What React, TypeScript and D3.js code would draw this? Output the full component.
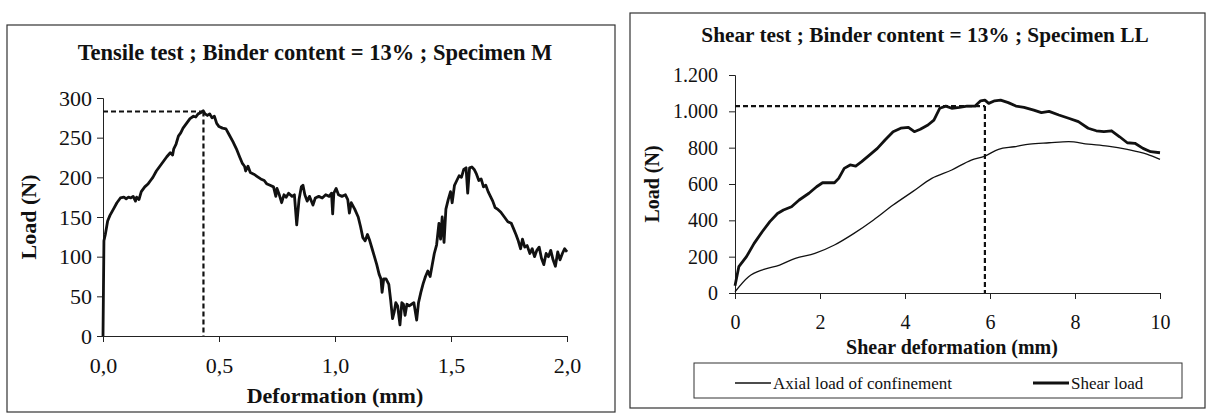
import { useEffect, useRef } from 'react';
import * as d3 from 'd3';

// Tensile test, specimen M (deformation in mm, load in N)
const tensileDeformation = [
  0.0, 0.002, 0.004, 0.01, 0.02, 0.03, 0.045, 0.06, 0.075, 0.09, 0.1, 0.11, 0.12, 0.13, 0.14, 0.145,
  0.155, 0.165, 0.18, 0.195, 0.205, 0.215, 0.23, 0.245, 0.26, 0.275, 0.29, 0.3, 0.305, 0.315, 0.325,
  0.335, 0.345, 0.36, 0.375, 0.39, 0.4, 0.41, 0.425, 0.432, 0.44, 0.45, 0.46, 0.47, 0.48, 0.49, 0.5,
  0.515, 0.53, 0.545, 0.56, 0.575, 0.59, 0.6, 0.61, 0.615, 0.625, 0.635, 0.65, 0.665, 0.68, 0.695,
  0.705, 0.72, 0.735, 0.745, 0.75, 0.76, 0.77, 0.78, 0.79, 0.8, 0.815, 0.825, 0.835, 0.845, 0.855,
  0.862, 0.87, 0.88, 0.89, 0.905, 0.915, 0.93, 0.945, 0.96, 0.975, 0.985, 0.99, 0.995, 1.005, 1.015,
  1.03, 1.045, 1.055, 1.062, 1.07, 1.085, 1.1, 1.11, 1.12, 1.13, 1.14, 1.15, 1.16, 1.17, 1.18, 1.19,
  1.198, 1.203, 1.21, 1.22, 1.232, 1.24, 1.248, 1.255, 1.262, 1.27, 1.28, 1.288, 1.295, 1.302, 1.31,
  1.32, 1.33, 1.34, 1.352, 1.36, 1.37, 1.38, 1.39, 1.4, 1.41, 1.418, 1.428, 1.438, 1.448, 1.455,
  1.462, 1.47, 1.478, 1.488, 1.498, 1.505, 1.515, 1.525, 1.535, 1.545, 1.555, 1.565, 1.572, 1.58,
  1.59, 1.6, 1.61, 1.62, 1.63, 1.64, 1.65, 1.66, 1.67, 1.68, 1.69, 1.7, 1.715, 1.73, 1.745, 1.76,
  1.77, 1.78, 1.79, 1.8, 1.808, 1.818, 1.828, 1.84, 1.85, 1.86, 1.87, 1.88, 1.89, 1.9, 1.91, 1.92,
  1.93, 1.94, 1.95, 1.96, 1.97, 1.98, 1.99, 2.0,
];
const tensileLoad = [
  0, 60, 120, 128, 145, 152, 160, 168, 174, 175, 173, 175, 174, 176, 170, 175,
  172, 182, 188, 192, 196, 200, 208, 214, 220, 226, 231, 228, 236, 242, 252,
  256, 262, 268, 274, 277, 276, 280, 282, 284, 280, 278, 280, 275, 277, 268, 264,
  262, 261, 253, 245, 236, 225, 218, 214, 208, 214, 206, 204, 201, 198, 196,
  192, 190, 188, 176, 186, 178, 168, 178, 175, 180, 176, 178, 140, 172, 188,
  190, 178, 170, 176, 165, 174, 176, 174, 178, 176, 180, 154, 180, 186, 178,
  176, 178, 172, 155, 168, 160, 150, 138, 124, 120, 128, 120, 110, 100, 90, 78,
  72, 55, 72, 72, 65, 45, 22, 30, 42, 38, 14, 42, 40, 26, 40,
  38, 40, 42, 20, 42, 55, 66, 75, 82, 75, 88, 104, 115, 142, 122,
  150, 118, 160, 172, 182, 168, 190, 196, 202, 200, 210, 212, 180, 212,
  213, 210, 204, 196, 198, 188, 190, 182, 176, 170, 162, 160, 156, 150, 144, 142,
  135, 128, 120, 110, 122, 112, 114, 104, 110, 100, 108, 112, 98, 90, 104, 100,
  108, 96, 88, 106, 96, 104, 110, 106,
];
const tensilePeak = { deformation: 0.433, load: 283 };

// Shear test, specimen LL (shear deformation in mm, load in N)
const shearDeformation = [
  0, 0.09, 0.27, 0.45, 0.64, 0.82, 1.0, 1.14, 1.33, 1.51, 1.74, 1.92, 2.06, 2.34, 2.44, 2.57, 2.71,
  2.84, 2.98, 3.17, 3.35, 3.53, 3.72, 3.9, 4.08, 4.22, 4.36, 4.54, 4.68, 4.82, 4.96, 5.1, 5.28, 5.46,
  5.65, 5.78, 5.88, 5.97, 6.11, 6.25, 6.43, 6.61, 6.8, 7.03, 7.21, 7.39, 7.62, 7.85, 8.08, 8.31, 8.5,
  8.68, 8.86, 9.05, 9.23, 9.41, 9.6, 9.78, 10.0,
];
const shearLoad = [
  40, 145, 200, 273, 337, 393, 438, 457, 475, 512, 549, 585, 607, 607, 631, 686, 705,
  699, 723, 760, 796, 842, 888, 907, 912, 888, 901, 925, 952, 1017, 1029, 1017, 1022, 1029,
  1029, 1058, 1062, 1044, 1058, 1062, 1048, 1029, 1022, 1007, 993, 1000, 980, 962, 943, 907, 893,
  888, 893, 860, 827, 824, 796, 778, 772,
];
const axialDeformation = [
  0, 0.32, 0.68, 1.05, 1.42, 1.88, 2.34, 2.8, 3.26, 3.72, 4.18, 4.63, 5.1, 5.56, 5.88, 6.2, 6.57,
  6.93, 7.39, 7.85, 8.31, 8.77, 9.23, 9.69, 10.0,
];
const axialLoad = [
  7, 90, 130, 154, 191, 218, 264, 328, 402, 484, 558, 631, 677, 732, 754, 791, 805,
  820, 827, 833, 820, 809, 791, 765, 736,
];
const shearPeak = { deformation: 5.88, load: 1029 };

const tensileXTicks = [0, 0.5, 1, 1.5, 2];
const tensileXLabels = ['0,0', '0,5', '1,0', '1,5', '2,0'];
const tensileYTicks = [0, 50, 100, 150, 200, 250, 300];
const shearXTicks = [0, 2, 4, 6, 8, 10];
const shearYTicks = [0, 200, 400, 600, 800, 1000, 1200];
const shearYLabels = ['0', '200', '400', '600', '800', '1.000', '1.200'];

const FONT = "'Liberation Serif', 'Times New Roman', serif";
const INK = '#111';

export default function App() {
  const svgRef = useRef<SVGSVGElement>(null);

  useEffect(() => {
    if (!svgRef.current) return;
    const svg = d3.select(svgRef.current);
    svg.selectAll('*').remove();

    svg.append('rect').attr('width', 1213).attr('height', 418).attr('fill', '#fff');

    const styleAxis = (g: d3.Selection<SVGGElement, unknown, null, undefined>, size: number) => {
      g.select('.domain').attr('stroke', '#222').attr('stroke-width', 1);
      g.selectAll('.tick line').attr('stroke', '#222').attr('stroke-width', 1);
      g.selectAll('.tick text')
        .attr('font-family', FONT)
        .attr('font-size', size)
        .attr('fill', INK);
    };

    // ---------- Tensile panel ----------
    svg.append('rect')
      .attr('x', 7).attr('y', 25).attr('width', 608).attr('height', 387)
      .attr('fill', 'none').attr('stroke', '#333').attr('stroke-width', 1.2);

    const x1 = d3.scaleLinear().domain([0, 2]).range([103, 567]);
    const y1 = d3.scaleLinear().domain([0, 300]).range([336, 98]);

    svg.append('text')
      .attr('x', 315).attr('y', 60)
      .attr('text-anchor', 'middle')
      .attr('font-family', FONT).attr('font-weight', 'bold').attr('font-size', 22.5)
      .attr('fill', INK)
      .text('Tensile test ; Binder content = 13% ; Specimen M');

    const ax1 = svg.append('g')
      .attr('transform', `translate(${x1(0)},0)`)
      .call(d3.axisLeft(y1).tickValues(tensileYTicks).tickSize(6).tickPadding(5));
    styleAxis(ax1, 22);

    const bx1 = svg.append('g')
      .attr('transform', `translate(0,${y1(0)})`)
      .call(d3.axisBottom(x1).tickValues(tensileXTicks).tickSize(6).tickPadding(15)
        .tickFormat((_d, i) => tensileXLabels[i]));
    styleAxis(bx1, 22);

    svg.append('text')
      .attr('transform', `translate(36,${(y1(0) + y1(300)) / 2}) rotate(-90)`)
      .attr('text-anchor', 'middle')
      .attr('font-family', FONT).attr('font-weight', 'bold').attr('font-size', 22)
      .attr('fill', INK)
      .text('Load (N)');

    svg.append('text')
      .attr('x', (x1(0) + x1(2)) / 2).attr('y', 403)
      .attr('text-anchor', 'middle')
      .attr('font-family', FONT).attr('font-weight', 'bold').attr('font-size', 22)
      .attr('fill', INK)
      .text('Deformation (mm)');

    const dash = svg.append('g')
      .attr('stroke', INK).attr('stroke-width', 2.2).attr('stroke-dasharray', '5,3').attr('fill', 'none');
    dash.append('line')
      .attr('x1', x1(0)).attr('x2', x1(tensilePeak.deformation))
      .attr('y1', y1(tensilePeak.load)).attr('y2', y1(tensilePeak.load));
    dash.append('line')
      .attr('x1', x1(tensilePeak.deformation)).attr('x2', x1(tensilePeak.deformation))
      .attr('y1', y1(tensilePeak.load)).attr('y2', y1(0));

    const line1 = d3.line<number>()
      .x((_d, i) => x1(tensileDeformation[i]))
      .y((d) => y1(d));
    svg.append('path')
      .datum(tensileLoad)
      .attr('d', line1)
      .attr('fill', 'none').attr('stroke', INK).attr('stroke-width', 2.8)
      .attr('stroke-linejoin', 'round');

    // ---------- Shear panel ----------
    svg.append('rect')
      .attr('x', 630).attr('y', 13).attr('width', 575).attr('height', 395)
      .attr('fill', 'none').attr('stroke', '#333').attr('stroke-width', 1.2);

    const x2 = d3.scaleLinear().domain([0, 10]).range([735, 1160]);
    const y2 = d3.scaleLinear().domain([0, 1200]).range([293, 75]);

    svg.append('text')
      .attr('x', 925).attr('y', 42)
      .attr('text-anchor', 'middle')
      .attr('font-family', FONT).attr('font-weight', 'bold').attr('font-size', 21.3)
      .attr('fill', INK)
      .text('Shear test ; Binder content = 13% ; Specimen LL');

    const ax2 = svg.append('g')
      .attr('transform', `translate(${x2(0)},0)`)
      .call(d3.axisLeft(y2).tickValues(shearYTicks).tickSize(6).tickPadding(11)
        .tickFormat((_d, i) => shearYLabels[i]));
    styleAxis(ax2, 20);

    const bx2 = svg.append('g')
      .attr('transform', `translate(0,${y2(0)})`)
      .call(d3.axisBottom(x2).tickValues(shearXTicks).tickSize(6).tickPadding(16));
    styleAxis(bx2, 20);

    svg.append('text')
      .attr('transform', `translate(659,${(y2(0) + y2(1200)) / 2}) rotate(-90)`)
      .attr('text-anchor', 'middle')
      .attr('font-family', FONT).attr('font-weight', 'bold').attr('font-size', 20)
      .attr('fill', INK)
      .text('Load (N)');

    svg.append('text')
      .attr('x', 952).attr('y', 354)
      .attr('text-anchor', 'middle')
      .attr('font-family', FONT).attr('font-weight', 'bold').attr('font-size', 20)
      .attr('fill', INK)
      .text('Shear deformation (mm)');

    const dash2 = svg.append('g')
      .attr('stroke', INK).attr('stroke-width', 2.2).attr('stroke-dasharray', '5,3').attr('fill', 'none');
    dash2.append('line')
      .attr('x1', x2(0)).attr('x2', x2(shearPeak.deformation))
      .attr('y1', y2(shearPeak.load)).attr('y2', y2(shearPeak.load));
    dash2.append('line')
      .attr('x1', x2(shearPeak.deformation)).attr('x2', x2(shearPeak.deformation))
      .attr('y1', y2(shearPeak.load)).attr('y2', y2(0));

    const axialLine = d3.line<number>()
      .x((_d, i) => x2(axialDeformation[i]))
      .y((d) => y2(d))
      .curve(d3.curveMonotoneX);
    svg.append('path')
      .datum(axialLoad)
      .attr('d', axialLine)
      .attr('fill', 'none').attr('stroke', INK).attr('stroke-width', 1.3);

    const shearLine = d3.line<number>()
      .x((_d, i) => x2(shearDeformation[i]))
      .y((d) => y2(d));
    svg.append('path')
      .datum(shearLoad)
      .attr('d', shearLine)
      .attr('fill', 'none').attr('stroke', INK).attr('stroke-width', 2.8)
      .attr('stroke-linejoin', 'round');

    // legend
    const legend = svg.append('g');
    legend.append('rect')
      .attr('x', 694).attr('y', 363).attr('width', 488).attr('height', 35)
      .attr('fill', '#fff').attr('stroke', '#333').attr('stroke-width', 1);
    const items = [
      { label: 'Axial load of confinement', x: 735, width: 1.3 },
      { label: 'Shear load', x: 1033, width: 2.8 },
    ];
    items.forEach((item) => {
      legend.append('line')
        .attr('x1', item.x).attr('x2', item.x + 36)
        .attr('y1', 383).attr('y2', 383)
        .attr('stroke', INK).attr('stroke-width', item.width);
      legend.append('text')
        .attr('x', item.x + 38).attr('y', 389)
        .attr('font-family', FONT).attr('font-size', 17)
        .attr('fill', INK)
        .text(item.label);
    });
  }, []);

  return (
    <svg
      ref={svgRef}
      width={1213}
      height={418}
      style={{ position: 'absolute', left: 0, top: 0 }}
    />
  );
}
